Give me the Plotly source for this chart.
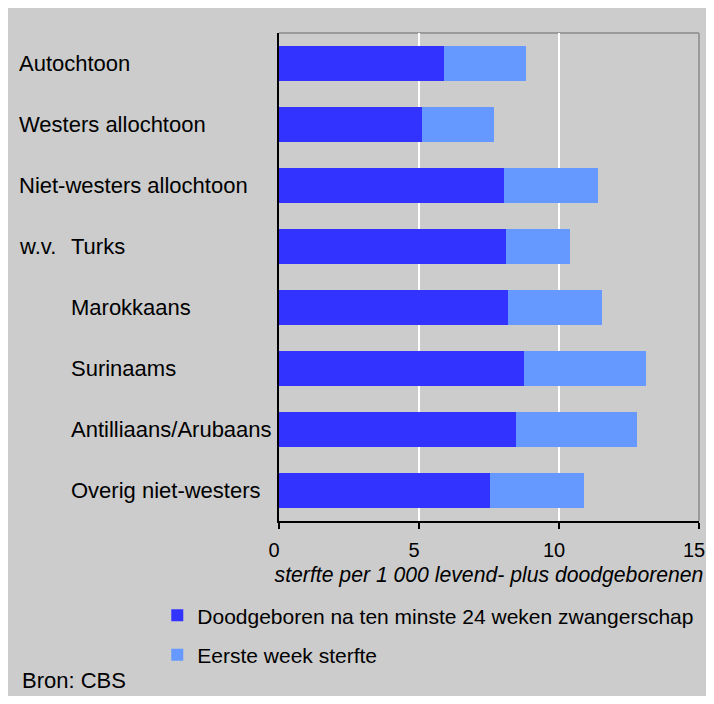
import plotly.graph_objects as go

categories = ["Autochtoon", "Westers allochtoon", "Niet-westers allochtoon", "w.v. Turks",
              "Marokkaans", "Surinaams", "Antilliaans/Arubaans", "Overig niet-westers"]
# label shown at the outer left position and the indented position
label_outer = ["Autochtoon", "Westers allochtoon", "Niet-westers allochtoon", "w.v.",
               "", "", "", ""]
label_indent = ["", "", "", "Turks", "Marokkaans", "Surinaams", "Antilliaans/Arubaans",
                "Overig niet-westers"]
doodgeboren = [5.89, 5.11, 8.05, 8.12, 8.19, 8.76, 8.48, 7.54]
eerste_week = [2.94, 2.58, 3.35, 2.28, 3.36, 4.36, 4.29, 3.36]
x_ticks = [0, 5, 10, 15]

FONT = "Liberation Sans, Arial, sans-serif"
TXT = 22
W, H = 698, 688
ML, MR, MT, MB = 271, 7, 25, 175

fig = go.Figure()
fig.add_trace(go.Bar(
    y=categories, x=doodgeboren, orientation="h",
    name="Doodgeboren na ten minste 24 weken zwangerschap",
    marker=dict(color="#3333ff", line=dict(width=0)),
    legendgroup="a",
))
fig.add_trace(go.Bar(
    y=categories, x=eerste_week, orientation="h",
    name="Eerste week sterfte",
    marker=dict(color="#6699ff", line=dict(width=0)),
    legendgroup="b",
))

annotations = []
for cat, lo, li in zip(categories, label_outer, label_indent):
    if lo:
        annotations.append(dict(text=lo, xref="paper", yref="y", x=-0.6238, y=cat,
                                xanchor="left", yanchor="middle", showarrow=False,
                                font=dict(family=FONT, size=TXT, color="#000000")))
    if li:
        annotations.append(dict(text=li, xref="paper", yref="y", x=-0.5, y=cat,
                                xanchor="left", yanchor="middle", showarrow=False,
                                font=dict(family=FONT, size=TXT, color="#000000")))
annotations.append(dict(text="Bron: CBS", xref="paper", yref="paper", x=-0.6167, y=-0.327,
                        xanchor="left", yanchor="middle", showarrow=False,
                        font=dict(family=FONT, size=TXT, color="#000000")))

fig.update_layout(
    width=W, height=H,
    margin=dict(l=ML, r=MR, t=MT, b=MB, pad=0, autoexpand=False),
    paper_bgcolor="#cccccc", plot_bgcolor="#cccccc",
    barmode="stack", bargap=0.44,
    font=dict(family=FONT, size=TXT, color="#000000"),
    showlegend=True,
    legend=dict(orientation="v", x=-0.2898, xanchor="left", y=-0.152, yanchor="top",
                traceorder="grouped", tracegroupgap=9, bgcolor="rgba(0,0,0,0)",
                font=dict(family=FONT, size=21, color="#000000")),
    annotations=annotations,
    shapes=[
        dict(type="line", xref="paper", yref="paper", x0=0, x1=1, y0=1, y1=1,
             line=dict(color="#9a9a9a", width=2), layer="below"),
        dict(type="line", xref="paper", yref="paper", x0=1, x1=1, y0=0, y1=1,
             line=dict(color="#9a9a9a", width=2), layer="below"),
    ],
)
fig.update_xaxes(
    range=[0, 15], tickvals=x_ticks, ticktext=[str(v) for v in x_ticks],
    automargin=False,
    showgrid=True, gridcolor="#ffffff", gridwidth=2,
    zeroline=False, showline=True, linecolor="#000000", linewidth=2,
    ticks="outside", ticklen=6, tickwidth=2, tickcolor="#000000",
    tickfont=dict(family=FONT, size=20, color="#000000"),
    ticklabeloverflow="allow", ticklabelstandoff=4, ticklabelshift=-5,
    title=dict(text="<i>sterfte per 1 000 levend- plus doodgeborenen</i>", standoff=7,
               font=dict(family=FONT, size=21.2, color="#000000")),
    fixedrange=True,
)
fig.update_yaxes(
    categoryorder="array", categoryarray=categories, autorange="reversed",
    automargin=False,
    showticklabels=False, showgrid=False, zeroline=False,
    showline=True, linecolor="#000000", linewidth=2, ticks="",
    fixedrange=True,
)

fig.write_html("out.html", config={"displayModeBar": False})
